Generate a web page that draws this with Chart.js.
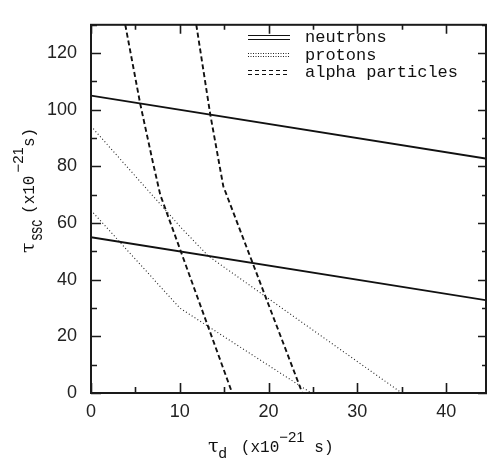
<!DOCTYPE html>
<html>
<head>
<meta charset="utf-8">
<script src="https://cdn.jsdelivr.net/npm/chart.js@4"></script>
<style>
  html, body { margin: 0; padding: 0; background: #fff; }
</style>
</head>
<body>
<canvas id="myChart" width="487" height="459"></canvas>
<script>
// tau_ssc vs tau_d curves (both in units of 1e-21 s)
var neutronX = [0, 45];
var neutronHigh = [105, 82.5];
var neutronLow = [55, 32.5];

var protonHighX = [0, 10.2, 13.2, 35];
var protonHigh = [94.2, 58.2, 48.4, 0];
var protonLowX = [0, 10, 24.8];
var protonLow = [64.5, 30, 0];

var alphaLeftX = [3.86, 5.55, 7.0, 7.8, 15.9];
var alphaLeft = [130, 102, 81, 70, 0];
var alphaRightX = [11.86, 13.43, 14.9, 23.8];
var alphaRight = [130, 98.4, 73, 0];

var legendLabels = ["neutrons", "protons", "alpha particles"];
var xTickLabels = [0, 10, 20, 30, 40];
var yTickLabels = [0, 20, 40, 60, 80, 100, 120];

function pts(xs, ys) {
    return xs.map(function (x, i) { return { x: x, y: ys[i] }; });
}

var solid = { borderColor: "#111", borderWidth: 1.8, borderDash: [] };
var dotted = { borderColor: "#222", borderWidth: 1.1, borderDash: [1, 2.4] };
var dashed = { borderColor: "#111", borderWidth: 1.9, borderDash: [5, 3] };

function series(label, data, style) {
    return {
        label: label,
        data: data,
        showLine: true,
        pointRadius: 0,
        borderColor: style.borderColor,
        borderWidth: style.borderWidth,
        borderDash: style.borderDash,
        fill: false
    };
}

// inward tick marks on all four sides plus the box
var framePlugin = {
    id: "frame",
    afterDatasetsDraw: function (chart) {
        var c = chart.ctx, a = chart.chartArea;
        var xs = chart.scales.x, ys = chart.scales.y;
        c.save();
        c.strokeStyle = "#1a1a1a";
        c.lineWidth = 1.6;
        c.beginPath();
        xs.ticks.forEach(function (t) {
            var px = Math.round(xs.getPixelForValue(t.value)) + 0.5;
            var len = t.value % 10 === 0 ? 10 : 6;
            c.moveTo(px, a.bottom); c.lineTo(px, a.bottom - len);
            c.moveTo(px, a.top); c.lineTo(px, a.top + len - 1);
        });
        ys.ticks.forEach(function (t) {
            var py = Math.round(ys.getPixelForValue(t.value)) + 0.5;
            var len = t.value % 20 === 0 ? 10 : 6;
            c.moveTo(a.left, py); c.lineTo(a.left + len, py);
            c.moveTo(a.right, py); c.lineTo(a.right - len + 1, py);
        });
        c.stroke();
        c.lineWidth = 2;
        c.strokeRect(a.left, a.top, a.right - 1 - a.left, a.bottom - a.top);
        c.restore();
    }
};

// legend with doubled sample lines, one entry per species
var legendPlugin = {
    id: "speciesLegend",
    afterDraw: function (chart) {
        var c = chart.ctx;
        var seen = [];
        c.save();
        chart.data.datasets.forEach(function (ds) {
            if (seen.indexOf(ds.label) > -1) return;
            seen.push(ds.label);
            var i = legendLabels.indexOf(ds.label);
            var base = 42 + i * 17.5;
            var mid = base - 5;
            c.strokeStyle = ds.borderColor;
            c.lineWidth = 1;
            c.setLineDash(ds.borderDash.length ? (i === 1 ? [1, 1.5] : [4, 3]) : []);
            [-1.8, 1.8].forEach(function (off) {
                c.beginPath();
                c.moveTo(248, Math.round(mid + off) + 0.5);
                c.lineTo(290, Math.round(mid + off) + 0.5);
                c.stroke();
            });
            c.setLineDash([]);
            c.fillStyle = "#111";
            c.font = "17px 'Liberation Mono'";
            c.textBaseline = "alphabetic";
            c.textAlign = "left";
            c.fillText(ds.label, 305, base);
        });
        c.restore();
    }
};

function drawRuns(c, runs) {
    var x = 0;
    runs.forEach(function (r) {
        if (r.gap) { x += r.gap; return; }
        c.save();
        c.font = r.font;
        c.translate(x, r.dy || 0);
        if (r.sx) c.scale(r.sx, 1);
        c.fillText(r.t, 0, 0);
        c.restore();
        c.font = r.font;
        x += c.measureText(r.t).width * (r.sx || 1);
    });
}

// axis titles with sub/superscripts
var titlePlugin = {
    id: "axisTitles",
    afterDraw: function (chart) {
        var c = chart.ctx;
        c.save();
        c.fillStyle = "#111";
        c.textBaseline = "alphabetic";
        c.textAlign = "left";

        c.save();
        c.translate(208, 452);
        drawRuns(c, [
            { t: "\u03c4", font: "19px 'DejaVu Serif'" },
            { t: "d", font: "15px 'Liberation Sans'", dy: 6 },
            { gap: 14 },
            { t: "(x10", font: "16px 'Liberation Mono'" },
            { t: "\u221221", font: "15px 'Liberation Sans'", dy: -10 },
            { t: " s)", font: "16px 'Liberation Mono'" }
        ]);
        c.restore();

        c.save();
        c.translate(34, 253);
        c.rotate(-Math.PI / 2);
        drawRuns(c, [
            { t: "\u03c4", font: "19px 'DejaVu Serif'" },
            { gap: 2 },
            { t: "ssc", font: "19px 'Liberation Sans'", dy: 8, sx: 0.72 },
            { gap: 6 },
            { t: "(x10", font: "16px 'Liberation Mono'" },
            { gap: 3 },
            { t: "\u221221", font: "15px 'Liberation Sans'", dy: -11 },
            { t: "s)", font: "16px 'Liberation Mono'" }
        ]);
        c.restore();

        c.restore();
    }
};

var tickFont = { family: "Liberation Sans", size: 18 };

var massChart = new Chart(document.getElementById("myChart").getContext("2d"), {
    type: "scatter",
    data: {
        datasets: [
            series("neutrons", pts(neutronX, neutronHigh), solid),
            series("neutrons", pts(neutronX, neutronLow), solid),
            series("protons", pts(protonHighX, protonHigh), dotted),
            series("protons", pts(protonLowX, protonLow), dotted),
            series("alpha particles", pts(alphaLeftX, alphaLeft), dashed),
            series("alpha particles", pts(alphaRightX, alphaRight), dashed)
        ]
    },
    options: {
        responsive: false,
        animation: false,
        layout: { padding: { top: 12, right: 0, bottom: 0, left: 0 } },
        plugins: {
            legend: { display: false },
            tooltip: { enabled: false }
        },
        scales: {
            x: {
                type: "linear",
                min: 0,
                max: 44.6,
                afterFit: function (s) { s.height = 66; },
                border: { display: false },
                grid: { display: false, drawTicks: false },
                ticks: {
                    stepSize: 5,
                    includeBounds: false,
                    autoSkip: false,
                    maxRotation: 0,
                    padding: 8,
                    color: "#222",
                    font: tickFont,
                    callback: function (v) { return xTickLabels.indexOf(v) > -1 ? v : ""; }
                }
            },
            y: {
                type: "linear",
                min: 0,
                max: 130,
                afterFit: function (s) { s.width = 91; },
                border: { display: false },
                grid: { display: false, drawTicks: false },
                ticks: {
                    stepSize: 10,
                    autoSkip: false,
                    padding: 14,
                    color: "#222",
                    font: tickFont,
                    callback: function (v) { return yTickLabels.indexOf(v) > -1 ? v : ""; }
                }
            }
        }
    },
    plugins: [framePlugin, legendPlugin, titlePlugin]
});
</script>
</body>
</html>
